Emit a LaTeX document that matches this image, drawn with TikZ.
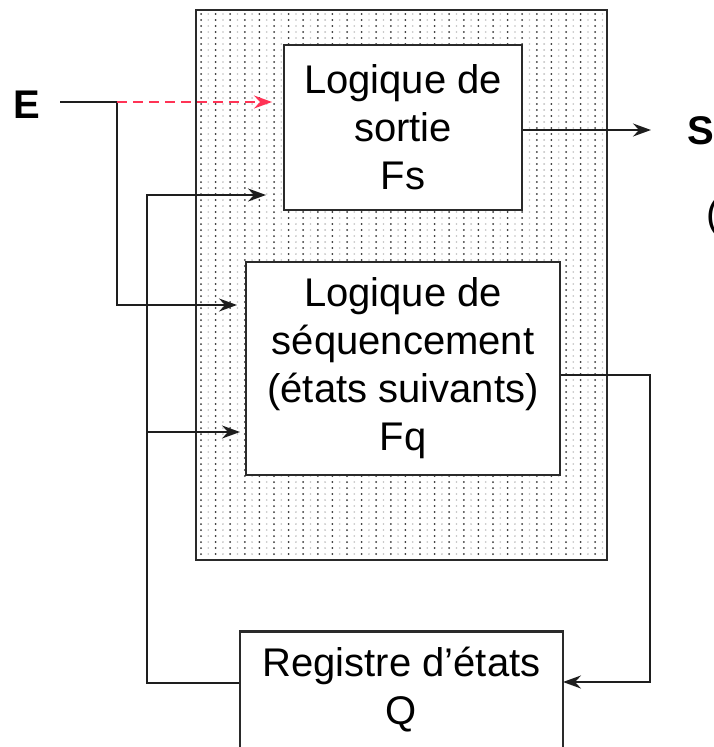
\documentclass[tikz,border=0pt]{standalone}
\usepackage{fontspec}
\setmainfont{Liberation Sans}
\usetikzlibrary{arrows.meta}
\definecolor{boxline}{HTML}{2A2A2A}
\definecolor{wirecol}{HTML}{1E1E1E}
\definecolor{dashred}{HTML}{FF3355}
\tikzset{
  blk/.style={draw=boxline, line width=2.8pt, fill=white, inner sep=0pt, align=center, font=\fontsize{40}{48}\selectfont},
  wire/.style={draw=wirecol, line width=2pt},
  arr/.style={wire, -{Stealth[length=18pt,width=13pt,inset=6pt]}},
  lbl/.style={font=\fontsize{40}{48}\selectfont\bfseries, inner sep=0pt},
  txt/.style={font=\fontsize{40}{48}\selectfont, inner sep=0pt, align=center},
}
\begin{document}
\begin{tikzpicture}[x=1pt,y=-1pt]
\useasboundingbox (0,0) rectangle (713,747);
\begin{scope}
\clip (0,0) rectangle (713,747);
% outer shaded block
\node[draw=boxline, line width=2.8pt, fill=white, minimum width=411pt, minimum height=550pt, inner sep=0pt] (outer) at (401.5,285) {};
\foreach \k in {0,...,27} {
  \fill[black!80] foreach \j in {0,...,90} {(201+14.6*\k, 14+6*\j) circle[radius=1.0pt]};
  \fill[gray!50] foreach \j in {0,...,90} {(208.3+14.6*\k, 14+6*\j) circle[radius=0.9pt]};
}
% blocks
\node[blk, minimum width=238pt, minimum height=165pt] (fs) at (403,127.5) {Logique de\\sortie\\Fs};
\node[blk, minimum width=314pt, minimum height=213pt] (fq) at (403,368.5) {Logique de\\séquencement\\(états suivants)\\Fq};
\node[blk, minimum width=323pt, minimum height=170pt, anchor=north] (reg) at (401.5,630) {};
\node[txt] (regtxt) at (401.5,690) {Registre d'états\\Q};
% labels
\node[lbl] (e) at (27,105) {E};
\node[lbl] (s) at (700.5,131) {S};
\node[txt, anchor=west] (par) at (706,217) {(};
% coordinates
\coordinate (eout) at (60,102);
\coordinate (ej) at (117,102);
\coordinate (fsa) at (272,102);
\coordinate (fqa) at (237,305);
\coordinate (sout) at (651,130);
\coordinate (fqo) at (650,375);
\coordinate (regin) at (563,682);
\coordinate (fbb) at (147,683);
\coordinate (fbt) at (147,195);
\coordinate (fsb) at (266,195);
\coordinate (fqb) at (240,432);
% connectors
\draw[arr] (eout) -- (ej) |- (fqa);
\draw[arr, draw=dashred, dash pattern=on 10pt off 6pt] (ej) -- (fsa);
\draw[arr] (fs.east |- sout) -- (sout);
\draw[arr] (fq.east |- fqo) -- (fqo) |- (regin);
\draw[arr] (reg.west |- fbb) -- (fbb) -- (fbt) -- (fsb);
\draw[arr] (fbb |- fqb) -- (fqb);
\end{scope}
\end{tikzpicture}
\end{document}
